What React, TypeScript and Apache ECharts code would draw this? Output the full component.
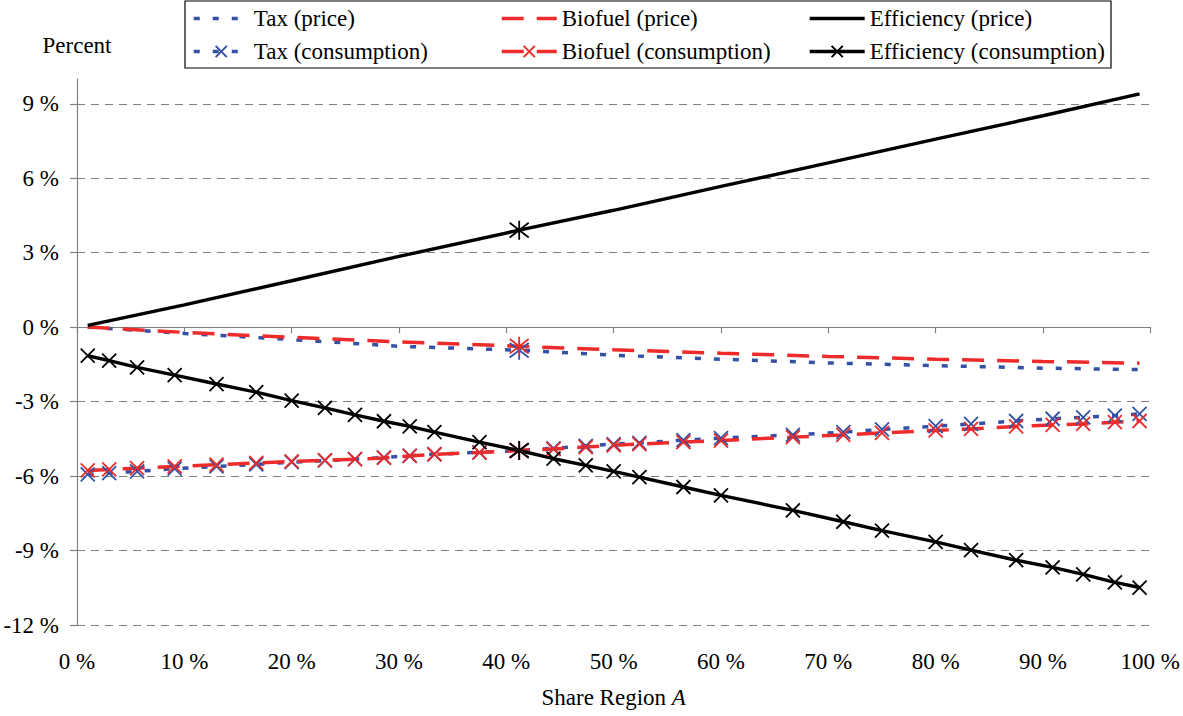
import React, { useEffect, useRef } from "react";
import * as echarts from "echarts";

// Share of region A (%) at which consumption effects were computed
const consumptionShare = [
  1, 3, 5.6, 9.1, 13, 16.7, 20, 23.1, 25.9, 28.6, 31, 33.3, 37.5, 41.2, 44.4,
  47.4, 50, 52.4, 56.5, 60, 66.7, 71.4, 75, 80, 83.3, 87.5, 90.9, 93.75, 96.7, 99,
];
// Share of region A (%) for the price effects
const priceShare = [1, 10, 20, 30, 41.2, 50, 60, 70, 80, 90, 99];
// Reference case highlighted with a star marker
const baseShare = 41.2;

const taxPrice = [0.0, -0.25, -0.5, -0.77, -0.93, -1.13, -1.29, -1.44, -1.55, -1.65, -1.71];
const biofuelPrice = [0.01, -0.21, -0.41, -0.59, -0.77, -0.91, -1.05, -1.18, -1.29, -1.38, -1.45];
const efficiencyPrice = [0.07, 0.9, 1.87, 2.85, 3.91, 4.71, 5.67, 6.62, 7.58, 8.52, 9.4];

const taxConsumption = [
  -5.93, -5.88, -5.81, -5.7, -5.61, -5.53, -5.44, -5.38, -5.32, -5.25, -5.18, -5.12, -5.04,
  -4.97, -4.88, -4.78, -4.71, -4.66, -4.55, -4.47, -4.34, -4.23, -4.12, -3.99, -3.9, -3.78,
  -3.69, -3.63, -3.56, -3.49,
];
const biofuelConsumption = [
  -5.77, -5.73, -5.68, -5.61, -5.54, -5.47, -5.41, -5.36, -5.32, -5.27, -5.19, -5.12, -5.05,
  -4.97, -4.91, -4.83, -4.76, -4.71, -4.63, -4.57, -4.43, -4.34, -4.26, -4.16, -4.1, -4.0,
  -3.94, -3.9, -3.83, -3.78,
];
const efficiencyConsumption = [
  -1.15, -1.35, -1.62, -1.93, -2.29, -2.62, -2.96, -3.25, -3.53, -3.79, -4.0, -4.23, -4.63,
  -4.97, -5.3, -5.57, -5.81, -6.04, -6.44, -6.78, -7.38, -7.84, -8.2, -8.65, -8.98, -9.39,
  -9.68, -9.96, -10.28, -10.49,
];

const yTicks = [-12, -9, -6, -3, 0, 3, 6, 9];
const xTicks = [0, 10, 20, 30, 40, 50, 60, 70, 80, 90, 100];

const FONT = "Liberation Serif";
const FS = 23;
const BLUE = "#3352A5";
const RED = "#EE2B2B";
const BLACK = "#000000";
const GREY = "#808080";

const CROSS = "path://M0,0L10,10M10,0L0,10";
const STAR = "path://M0,0L10,10M10,0L0,10M5,-1.5L5,11.5";

function points(xs: number[], ys: number[], starSize: number) {
  return xs.map((x, i) =>
    x === baseShare
      ? { value: [x, ys[i]], symbol: STAR, symbolSize: starSize }
      : [x, ys[i]]
  );
}

function lineSeries(
  name: string,
  xs: number[],
  ys: number[],
  color: string,
  dash: number[] | "solid",
  width: number,
  markers: boolean
) {
  return {
    name,
    type: "line",
    xAxisIndex: 0,
    yAxisIndex: 0,
    data: points(xs, ys, 19),
    symbol: markers ? CROSS : "none",
    symbolSize: 14,
    lineStyle: { color, width, type: dash, cap: "butt" },
    itemStyle: { color: "transparent", borderColor: color, borderWidth: 1.8 },
    emphasis: { disabled: true },
    silent: true,
  };
}

// One legend column: the price entry (line only) above the consumption entry (line + cross)
function legendColumn(left: number, price: string, consumption: string) {
  return {
    orient: "vertical",
    left,
    top: 7,
    padding: 0,
    itemGap: 10,
    itemWidth: 55,
    itemHeight: 14,
    selectedMode: false,
    lineStyle: { width: "inherit" },
    data: [{ name: price, itemStyle: { opacity: 0 } }, { name: consumption }],
    textStyle: { fontFamily: FONT, fontSize: FS, color: "#000", lineHeight: 23 },
  };
}

export default function App() {
  const ref = useRef<HTMLDivElement>(null);

  useEffect(() => {
    if (!ref.current) return;
    const chart = echarts.init(ref.current, null, { renderer: "svg" });
    chart.setOption({
      animation: false,
      backgroundColor: "#ffffff",
      textStyle: { fontFamily: FONT },
      grid: { left: 77, right: 32, top: 79, bottom: 91 },
      legend: [
        legendColumn(192, "Tax (price)", "Tax (consumption)"),
        legendColumn(500, "Biofuel (price)", "Biofuel (consumption)"),
        legendColumn(808, "Efficiency (price)", "Efficiency (consumption)"),
      ],
      graphic: [
        {
          type: "rect",
          shape: { x: 185, y: 1, width: 926, height: 67 },
          style: { fill: "none", stroke: "#000", lineWidth: 1.2 },
          silent: true,
        },
      ],
      xAxis: [
        {
          type: "value",
          min: 0,
          max: 100,
          interval: 10,
          position: "bottom",
          axisLine: { show: true, onZero: true, lineStyle: { color: GREY, width: 1.2 } },
          axisTick: { show: true, length: 6, lineStyle: { color: GREY, width: 1.2 } },
          axisLabel: { show: false },
          splitLine: { show: false },
        },
        {
          type: "value",
          min: 0,
          max: 100,
          interval: 10,
          position: "bottom",
          axisLine: { show: false, onZero: false },
          axisTick: { show: false },
          splitLine: { show: false },
          axisLabel: {
            margin: 25,
            fontFamily: FONT,
            fontSize: FS,
            color: "#000",
            customValues: xTicks,
            formatter: (v: number) => `${v} %`,
          },
          name: "{n|Share Region }{i|A}",
          nameLocation: "middle",
          nameGap: 72,
          nameTextStyle: {
            verticalAlign: "middle",
            rich: {
              n: { fontFamily: FONT, fontSize: FS, color: "#000" },
              i: { fontFamily: FONT, fontSize: FS, color: "#000", fontStyle: "italic" },
            },
          },
        },
      ],
      yAxis: {
        type: "value",
        min: -12,
        max: 10,
        interval: 3,
        name: "Percent",
        nameLocation: "end",
        nameGap: 34,
        nameTextStyle: {
          fontFamily: FONT,
          fontSize: FS,
          color: "#000",
          align: "center",
          verticalAlign: "middle",
        },
        axisLine: { show: true, onZero: false, lineStyle: { color: GREY, width: 1.2 } },
        axisTick: {
          show: true,
          length: 7,
          customValues: yTicks,
          lineStyle: { color: GREY, width: 1.2 },
        },
        axisLabel: {
          margin: 18,
          fontFamily: FONT,
          fontSize: FS,
          color: "#000",
          customValues: yTicks,
          formatter: (v: number) => (v % 3 === 0 ? `${v} %` : ""),
        },
        splitLine: {
          show: true,
          lineStyle: { color: GREY, width: 1.2, type: [8, 6] },
        },
      },
      series: [
        lineSeries("Tax (price)", priceShare, taxPrice, BLUE, [6, 13], 3.5, false),
        lineSeries("Biofuel (price)", priceShare, biofuelPrice, RED, [22, 13], 3.5, false),
        lineSeries("Efficiency (price)", priceShare, efficiencyPrice, BLACK, "solid", 3.4, false),
        lineSeries("Tax (consumption)", consumptionShare, taxConsumption, BLUE, [6, 13], 3.5, true),
        lineSeries("Biofuel (consumption)", consumptionShare, biofuelConsumption, RED, [22, 13], 3.5, true),
        lineSeries("Efficiency (consumption)", consumptionShare, efficiencyConsumption, BLACK, "solid", 3.4, true),
      ],
    });
    return () => chart.dispose();
  }, []);

  return (
    <div
      ref={ref}
      style={{ position: "absolute", left: 0, top: 0, width: 1183, height: 716, background: "#fff" }}
    />
  );
}
